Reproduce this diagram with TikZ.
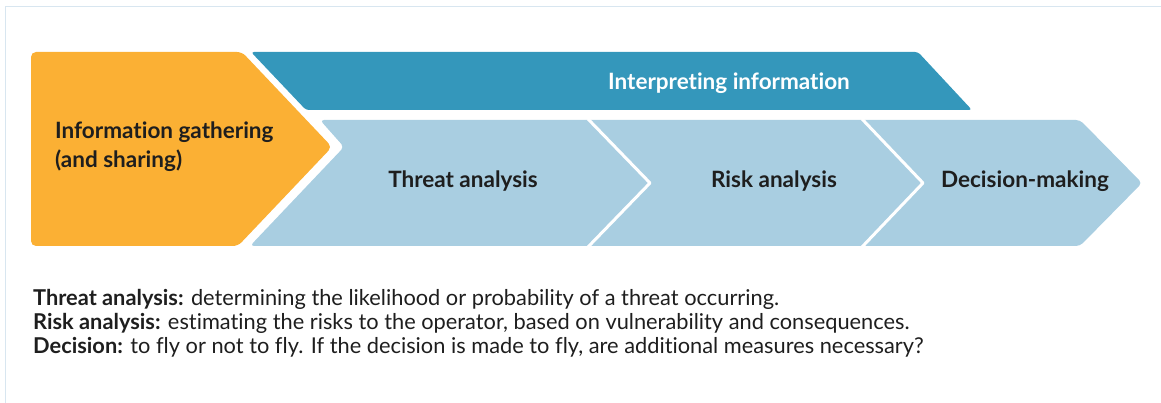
\documentclass[tikz,border=0pt]{standalone}
\usepackage{fontspec}
\setmainfont{Lato}[Ligatures=NoCommon]
\definecolor{orangeC}{RGB}{251,176,52}
\definecolor{tealC}{RGB}{52,151,187}
\definecolor{lblueC}{RGB}{169,206,225}
\definecolor{frameC}{RGB}{216,230,240}
\definecolor{txtC}{RGB}{30,30,30}
\tikzset{
  boxlabel/.style={inner sep=0pt, font=\fontsize{22.5}{27}\selectfont\bfseries, text=txtC},
  desc/.style={inner sep=0pt, anchor=base west, font=\fontsize{21.8}{24}\selectfont, text=txtC},
  sep/.style={draw=white, line width=3pt, line join=round}
}
\begin{document}
\begin{tikzpicture}[x=1pt,y=-1pt]
\useasboundingbox (0,0) rectangle (1161,403);
% frame
\draw[frameC, line width=1pt] (5.5,403) -- (5.5,6.5) -- (1161,6.5);
% orange chevron
\fill[orangeC, rounded corners=5pt] (31,52) -- (242,52) -- (332,147) -- (238,246) -- (31,246) -- cycle;
% teal band
\fill[tealC, rounded corners=3pt] (251,52) -- (918,52) -- (972,110) -- (306,110) -- cycle;
% light blue chevrons
\fill[lblueC, rounded corners=4pt] (320,120) -- (344,147) -- (250,246) -- (1080,246) -- (1142,183) -- (1080,120) -- cycle;
\draw[sep] (588,119) -- (650,183) -- (588,247);
\draw[sep] (862,119) -- (923,183) -- (862,247);
% labels
\node[boxlabel, anchor=base west] (info1) at (55,139) {Information gathering};
\node[boxlabel, anchor=base west] (info2) at (55,168) {(and sharing)};
\node[boxlabel, anchor=base, text=white] (interp) at (729,90) {Interpreting information};
\node[boxlabel, anchor=base] (threat) at (463,188) {Threat analysis};
\node[boxlabel, anchor=base] (risk) at (774,188) {Risk analysis};
\node[boxlabel, anchor=base] (decm) at (1025,188) {Decision-making};
% description
\node[desc] (d1) at (33,305) {\textbf{Threat analysis:} determining the likelihood or probability of a threat occurring.};
\node[desc] (d2) at (33,329) {\textbf{Risk analysis:} estimating the risks to the operator, based on vulnerability and consequences.};
\node[desc] (d3) at (33,353) {\textbf{Decision:} to fly or not to fly. If the decision is made to fly, are additional measures necessary?};
\end{tikzpicture}
\end{document}
